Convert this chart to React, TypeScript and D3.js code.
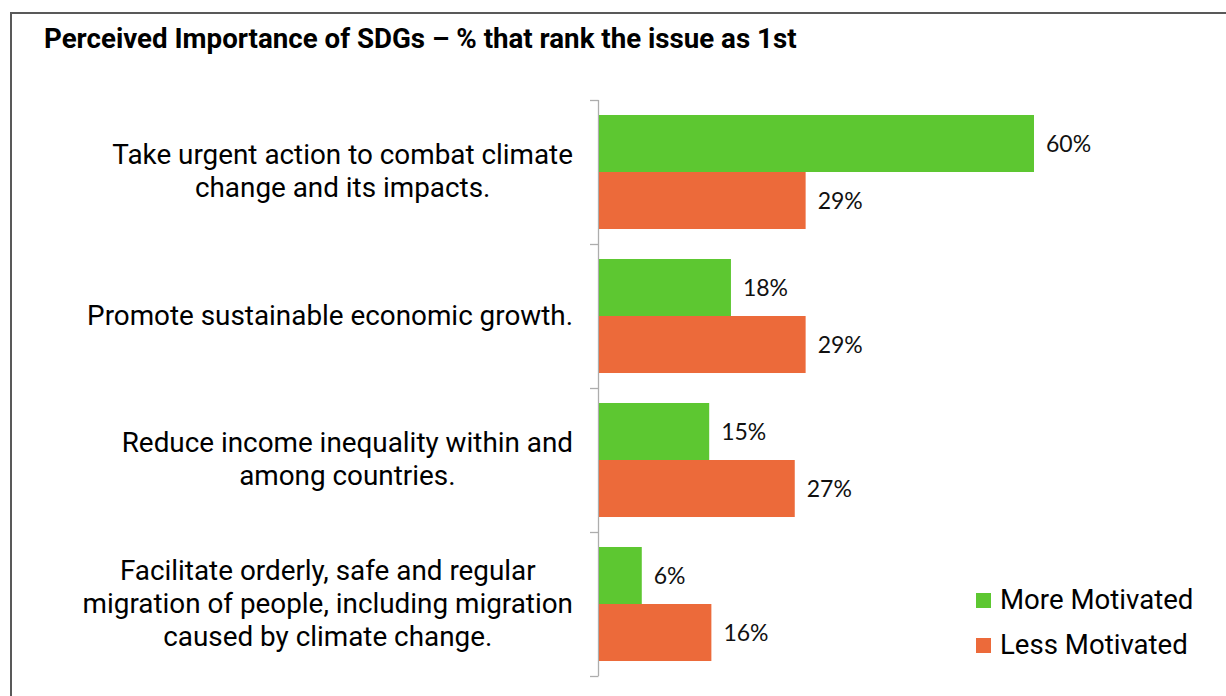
import React from "react";
import * as d3 from "d3";

const categories: string[][] = [
  ["Take urgent action to combat climate", "change and its impacts."],
  ["Promote sustainable economic growth."],
  ["Reduce income inequality within and", "among countries."],
  ["Facilitate orderly, safe and regular", "migration of people, including migration", "caused by climate change."],
];
const seriesNames = ["More Motivated", "Less Motivated"];
const moreMotivated = [60, 18.2, 15.2, 5.9];
const lessMotivated = [28.5, 28.5, 27, 15.5];
const colors = ["#5DC731", "#EC6A3A"];
const title = "Perceived Importance of SDGs \u2013 % that rank the issue as 1st";

const W = 1226;
const H = 696;
const LABEL_SIZE = 27.85;
const LABEL_FONT = `${LABEL_SIZE}px Roboto`;
const DATA_FONT = "Lato";

function measure(text: string, font: string): number {
  if (typeof document === "undefined") return text.length * 13;
  const c = document.createElement("canvas");
  const ctx = c.getContext("2d");
  if (!ctx) return text.length * 13;
  ctx.font = font;
  return ctx.measureText(text).width;
}

export default function App() {
  const keys = categories.map((_, i) => String(i));
  const y = d3.scaleBand<string>().domain(keys).range([100, 676]).padding(0);
  const inner = d3
    .scaleBand<string>()
    .domain(seriesNames)
    .range([0, y.bandwidth()])
    .paddingInner(0)
    .paddingOuter(0.263);
  const x = d3.scaleLinear().domain([0, 60]).range([599, 1034]);
  const series = [moreMotivated, lessMotivated];
  const axisX = 598.5;
  const labelRight = 573;
  const lineH = 33;

  return (
    <div style={{ position: "absolute", left: 0, top: 0, width: W, height: H, overflow: "hidden", background: "#fff" }}>
      <svg width={W} height={H} style={{ display: "block" }}>
        <rect x={0} y={0} width={W} height={H} fill="#fff" />
        <rect x={11} y={13} width={W + 20} height={H + 20} fill="none" stroke="#595959" strokeWidth={2} />
        <text x={44} y={48} fontFamily="Roboto" fontWeight="bold" fontSize={27.7} fill="#000">
          {title}
        </text>
        {/* axis */}
        <line x1={axisX} x2={axisX} y1={100} y2={676} stroke="#ADADAD" strokeWidth={1.3} />
        {[...keys, "end"].map((k, i) => {
          const yy = i < keys.length ? (y(k) as number) : 676;
          return <line key={"t" + i} x1={590} x2={axisX} y1={yy + 0.5} y2={yy + 0.5} stroke="#ADADAD" strokeWidth={1.3} />;
        })}
        {/* category labels */}
        {categories.map((lines, i) => {
          const maxW = d3.max(lines, (l) => measure(l, LABEL_FONT)) as number;
          const cx = labelRight - maxW / 2;
          const cy = (y(String(i)) as number) + y.bandwidth() / 2;
          const first = cy - ((lines.length - 1) * lineH) / 2;
          return (
            <text key={"c" + i} fontFamily="Roboto" fontSize={LABEL_SIZE} fill="#000" textAnchor="middle">
              {lines.map((l, j) => (
                <tspan key={j} x={cx} y={first + j * lineH + 8.5}>
                  {l}
                </tspan>
              ))}
            </text>
          );
        })}
        {/* bars */}
        {series.map((vals, s) =>
          vals.map((v, i) => {
            const y0 = (y(String(i)) as number) + (inner(seriesNames[s]) as number);
            return (
              <g key={"b" + s + "-" + i}>
                <rect x={x(0)} y={y0} width={x(v) - x(0)} height={inner.bandwidth()} fill={colors[s]} />
                <text x={x(v) + 12} y={y0 + inner.bandwidth() / 2 + 8.5} fontFamily={DATA_FONT} fontSize={23} fill="#111">
                  {Math.round(v) + "%"}
                </text>
              </g>
            );
          })
        )}
        {/* legend */}
        {seriesNames.map((n, i) => (
          <g key={"l" + i} transform={`translate(976, ${593 + i * 45})`}>
            <rect x={0} y={0} width={15} height={15} fill={colors[i]} />
            <text x={24} y={16} fontFamily="Roboto" fontSize={27.6} fill="#000">
              {n}
            </text>
          </g>
        ))}
      </svg>
    </div>
  );
}
